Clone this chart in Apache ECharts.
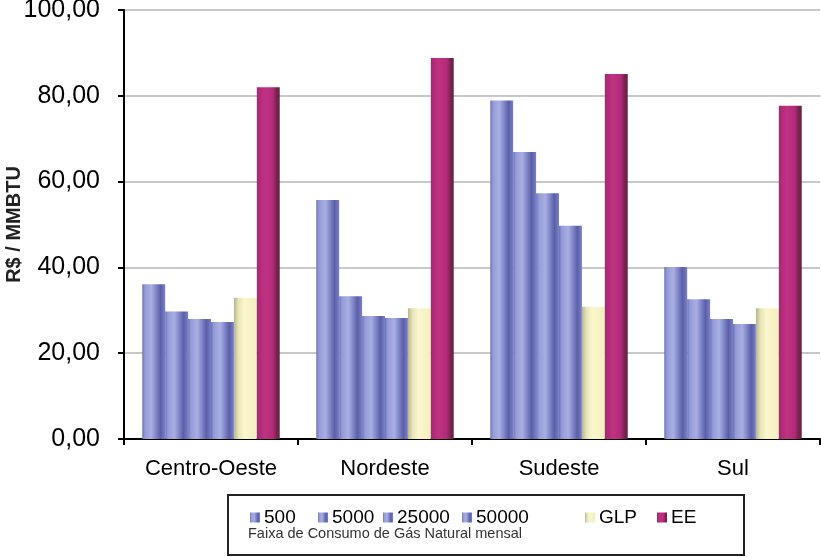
<!DOCTYPE html>
<html>
<head>
<meta charset="utf-8">
<script src="https://cdn.jsdelivr.net/npm/echarts@6/dist/echarts.min.js"></script>
<style>html,body{margin:0;padding:0;background:#fff}#c{width:821px;height:557px}</style>
</head>
<body>
<div id="c"></div>
<script>
const categories = ['Centro-Oeste', 'Nordeste', 'Sudeste', 'Sul'];
const s500   = [36.1, 55.7, 78.9, 40.1];
const s5000  = [29.7, 33.3, 66.9, 32.6];
const s25000 = [28.0, 28.7, 57.3, 28.0];
const s50000 = [27.3, 28.2, 49.7, 26.8];
const sGLP   = [32.9, 30.5, 30.8, 30.5];
const sEE    = [82.0, 88.8, 85.1, 77.7];
const seriesNames = ['500', '5000', '25000', '50000', 'GLP', 'EE'];
const yTicks = [0, 20, 40, 60, 80, 100];
const yTitle = 'R$ / MMBTU';
const legendNote = 'Faixa de Consumo de Gás Natural mensal';

const FONT = 'Liberation Sans, Arial, sans-serif';
function grad(stops) {
  return new echarts.graphic.LinearGradient(0, 0, 1, 0, stops.map((c) => ({offset: c[0], color: c[1]})));
}
const blue = grad([[0,'#6b71bb'],[0.12,'#959bd6'],[0.4,'#a9afe1'],[0.62,'#7d83c6'],[0.8,'#5a5fa8'],[1,'#7b81c4']]);
const yellow = grad([[0,'#b9b58c'],[0.2,'#e8e4b8'],[0.45,'#fbf7cc'],[1,'#f3efc0']]);
const magenta = grad([[0,'#a82673'],[0.35,'#c03383'],[0.7,'#b22a79'],[0.85,'#7a2550'],[1,'#5e2440']]);
const colors = [blue, blue, blue, blue, yellow, magenta];
const dataArr = [s500, s5000, s25000, s50000, sGLP, sEE];

const legendLefts = [245, 313, 378, 457, 580, 652];

const chart = echarts.init(document.getElementById('c'), null, {renderer: 'canvas'});
chart.setOption({
  animation: false,
  grid: {left: 124, right: 1, top: 10, bottom: 118, containLabel: false, outerBoundsMode: 'none'},
  xAxis: {
    type: 'category',
    data: categories,
    axisLine: {lineStyle: {color: '#000', width: 2}},
    axisTick: {show: true, length: 6, lineStyle: {color: '#000', width: 2}},
    axisLabel: {color: '#000', fontSize: 22, fontFamily: FONT, margin: 19, interval: 0, hideOverlap: false}
  },
  yAxis: {
    type: 'value',
    min: yTicks[0], max: yTicks[yTicks.length - 1], interval: 20,
    name: yTitle,
    nameLocation: 'middle',
    nameGap: 100,
    nameMoveOverlap: false,
    nameTextStyle: {fontSize: 20, fontWeight: 'bold', color: '#222', fontFamily: FONT},
    axisLine: {show: true, lineStyle: {color: '#000', width: 2}},
    axisTick: {show: true, length: 6, lineStyle: {color: '#000', width: 2}},
    axisLabel: {color: '#000', fontSize: 25, fontFamily: FONT, margin: 24,
      formatter: v => v.toFixed(2).replace('.', ',')},
    splitLine: {lineStyle: {color: '#c8c8c8', width: 2}}
  },
  legend: seriesNames.map((n, i) => ({
    data: [n], left: legendLefts[i], top: 503, itemWidth: 10, itemHeight: 10, itemGap: 0,
    icon: 'rect',
    textStyle: {fontSize: 19, color: '#000', fontFamily: FONT, padding: [0,0,0,-1]}
  })),
  graphic: [
    {type: 'rect', shape: {x: 228, y: 495, width: 516, height: 60},
      style: {fill: 'none', stroke: '#222', lineWidth: 2}, silent: true},
    {type: 'text', x: 248, y: 526, style: {text: legendNote, fontSize: 14.5, fill: '#333', fontFamily: FONT}}
  ],
  series: seriesNames.map((n, i) => ({
    name: n, type: 'bar', data: dataArr[i],
    barGap: '0%', barCategoryGap: '21%',
    itemStyle: {color: colors[i]}
  }))
});
</script>
</body>
</html>
